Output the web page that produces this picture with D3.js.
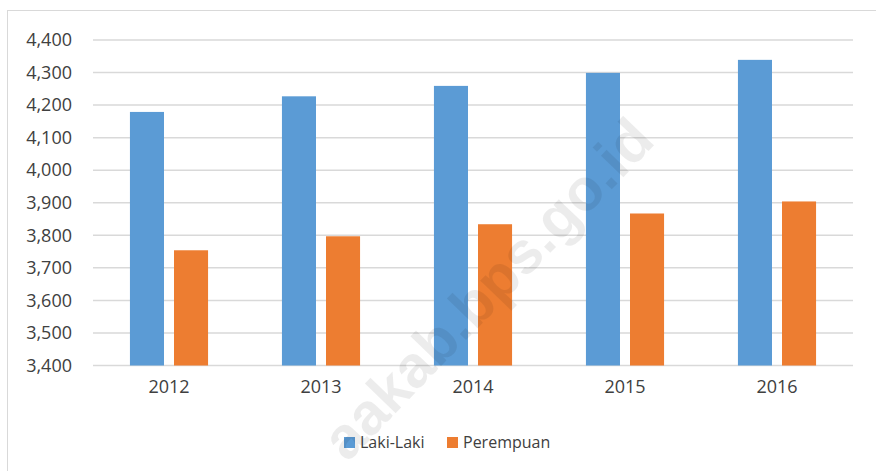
<!DOCTYPE html>
<html>
<head>
<meta charset="utf-8">
<script src="https://cdn.jsdelivr.net/npm/d3@7"></script>
<style>
  body { margin: 0; background: #fff; }
  svg { display: block; }
  .tick text { fill: #404040; }
</style>
</head>
<body>
<script>
(function(){

  //chart data
  var years = ["2012", "2013", "2014", "2015", "2016"];
  var seriesNames = ["Laki-Laki", "Perempuan"];
  var lakiLaki = [4179, 4227, 4259, 4299, 4339];
  var perempuan = [3754, 3797, 3834, 3867, 3904];
  var yTicks = [3400, 3500, 3600, 3700, 3800, 3900, 4000, 4100, 4200, 4300, 4400];
  var colors = ["#5b9bd5", "#ed7d31"];

  var width = 876,
      height = 471,
      left = 93,
      right = 853,
      top = 40,
      bottom = 365.5;

  var svg = d3.select("body")
      .append("svg")
      .attr("width", width)
      .attr("height", height);

  //outer chart frame
  svg.append("rect")
      .attr("x", 7.5)
      .attr("y", 10.5)
      .attr("width", 900)
      .attr("height", 500)
      .attr("fill", "#fff")
      .attr("stroke", "#d9d9d9")
      .attr("stroke-width", 1);

  var yScale = d3.scaleLinear()
      .domain([3400, 4400])
      .range([bottom, top]);

  var x0 = d3.scaleBand()
      .domain(years)
      .range([left, right]);

  var bw = x0.bandwidth();
  var x1 = d3.scaleBand()
      .domain(seriesNames)
      .range([bw * 0.243, bw * 0.757])
      .paddingInner(0.227);

  //gridlines
  svg.append("g")
      .selectAll("line")
      .data(yTicks)
      .enter()
      .append("line")
      .attr("x1", left)
      .attr("x2", right)
      .attr("y1", function(d){ return yScale(d); })
      .attr("y2", function(d){ return yScale(d); })
      .attr("stroke", "#d9d9d9")
      .attr("stroke-width", 1.5);

  //y axis labels
  var yAxis = d3.axisLeft(yScale)
      .tickValues(yTicks)
      .tickSize(0)
      .tickPadding(0)
      .tickFormat(d3.format(","));

  svg.append("g")
      .attr("transform", "translate(72,0)")
      .call(yAxis)
      .call(function(g){ g.select(".domain").remove(); })
      .selectAll("text")
      .attr("font-family", "'Open Sans', sans-serif")
      .attr("font-size", 18);

  //bars
  var rows = years.map(function(y, i){
      return { year: y, values: [lakiLaki[i], perempuan[i]] };
  });

  var groups = svg.selectAll(".group")
      .data(rows)
      .enter()
      .append("g")
      .attr("class", "group")
      .attr("transform", function(d){ return "translate(" + x0(d.year) + ",0)"; });

  groups.selectAll("rect")
      .data(function(d){
          return d.values.map(function(v, j){ return { name: seriesNames[j], value: v, idx: j }; });
      })
      .enter()
      .append("rect")
      .attr("x", function(d){ return x1(d.name); })
      .attr("width", x1.bandwidth())
      .attr("y", function(d){ return yScale(d.value); })
      .attr("height", function(d){ return yScale(3400) - yScale(d.value); })
      .attr("fill", function(d){ return colors[d.idx]; });

  //x axis labels
  var xAxis = d3.axisBottom(x0)
      .tickSize(0)
      .tickPadding(0);

  svg.append("g")
      .attr("transform", "translate(0,380)")
      .call(xAxis)
      .call(function(g){ g.select(".domain").remove(); })
      .selectAll("text")
      .attr("font-family", "'Open Sans', sans-serif")
      .attr("font-size", 18);

  //legend
  var legendX = [344, 447];
  var legend = svg.selectAll(".legend")
      .data(seriesNames)
      .enter()
      .append("g")
      .attr("class", "legend")
      .attr("transform", function(d, i){ return "translate(" + legendX[i] + ",437)"; });

  legend.append("rect")
      .attr("width", 11)
      .attr("height", 11)
      .attr("fill", function(d, i){ return colors[i]; });

  legend.append("text")
      .attr("x", 16)
      .attr("y", 11)
      .attr("font-family", "'Open Sans', sans-serif")
      .attr("font-size", 16)
      .attr("fill", "#404040")
      .text(function(d){ return d; });

  //watermark
  svg.append("text")
      .attr("transform", "translate(502,303) rotate(-46)")
      .attr("text-anchor", "middle")
      .attr("font-family", "'Liberation Sans', Arial, sans-serif")
      .attr("font-weight", "bold")
      .attr("font-size", 59)
      .attr("fill", "#000")
      .attr("fill-opacity", 0.075)
      .text("aakab.bps.go.id");

})();
</script>
</body>
</html>
